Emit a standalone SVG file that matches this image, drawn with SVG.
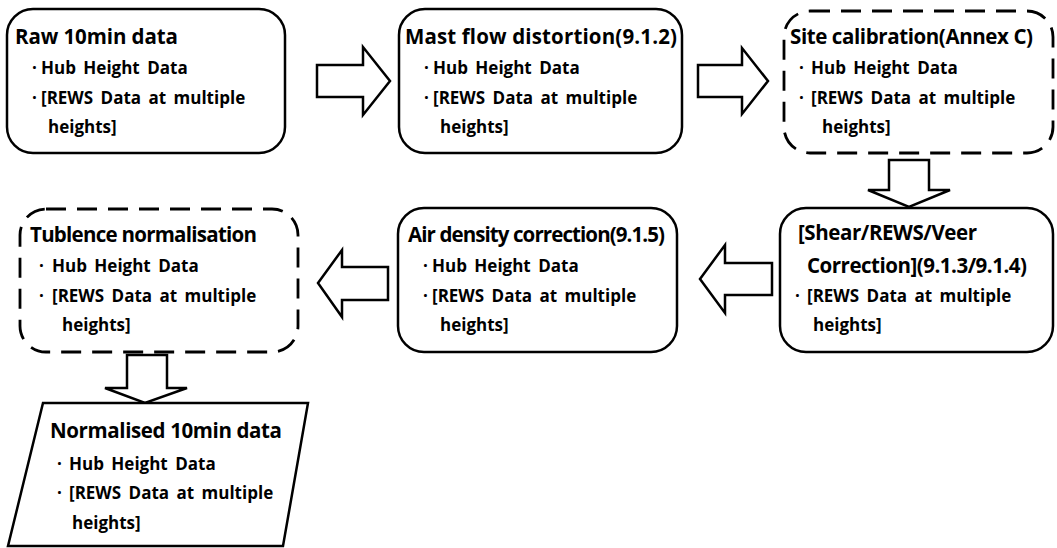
<svg xmlns="http://www.w3.org/2000/svg" width="1057" height="548" viewBox="0 0 1057 548">
<style>
  .box { fill: #fff; stroke: #000; stroke-width: 2.5; }
  .dash { fill: #fff; stroke: #000; stroke-width: 2.8; stroke-dasharray: 20 11; }
  .arr { fill: #fff; stroke: #000; stroke-width: 2.5; stroke-linejoin: miter; }
  text { font-family: "Open Sans", "Noto Sans CJK KR", sans-serif; font-weight: bold; fill: #000; }
  .t { font-size: 20.5px; }
  .b { font-size: 17px; word-spacing: 3px; }
</style>
<rect width="1057" height="548" fill="#fff"/>
<g id="connectors">
  <polygon class="arr" points="317,65 363,65 363,47 390,81 363,115 363,97 317,97"/>
  <polygon class="arr" points="698,65 742,65 742,48 768,81 742,114 742,97 698,97"/>
  <polygon class="arr" points="889,160 929,160 929,190 950,190 909,207 868,190 889,190"/>
  <polygon class="arr" points="772,263 725,263 725,245 700,279 725,313 725,295 772,295"/>
  <polygon class="arr" points="388,267 342,267 342,250 318,283 342,317 342,300 388,300"/>
  <polygon class="arr" points="127,355 167,355 167,388 187,388 145,403 105,388 127,388"/>
</g>
<g id="raw">
  <rect class="box" x="7" y="9" width="278" height="144" rx="26"/>
  <text class="t" x="15" y="44" textLength="163" lengthAdjust="spacing">Raw 10min data</text>
  <text class="b" x="32" y="74">·</text>
  <text class="b" x="41" y="74">Hub Height Data</text>
  <text class="b" x="32" y="104">·</text>
  <text class="b" x="41" y="104">[REWS Data at multiple</text>
  <text class="b" x="48" y="133">heights]</text>
</g>
<g id="mast">
  <rect class="box" x="399" y="9" width="283" height="144" rx="26"/>
  <text class="t" x="405" y="44" textLength="272" lengthAdjust="spacing">Mast flow distortion(9.1.2)</text>
  <text class="b" x="424" y="74">·</text>
  <text class="b" x="433" y="74">Hub Height Data</text>
  <text class="b" x="424" y="104">·</text>
  <text class="b" x="433" y="104">[REWS Data at multiple</text>
  <text class="b" x="440" y="133">heights]</text>
</g>
<g id="site">
  <rect class="dash" x="784" y="11" width="269" height="142" rx="26"/>
  <text class="t" x="790" y="44" textLength="243" lengthAdjust="spacing">Site calibration(Annex C)</text>
  <text class="b" x="799" y="74">·</text>
  <text class="b" x="811" y="74">Hub Height Data</text>
  <text class="b" x="799" y="104">·</text>
  <text class="b" x="811" y="104">[REWS Data at multiple</text>
  <text class="b" x="822" y="133">heights]</text>
</g>
<g id="shear">
  <rect class="box" x="780" y="208" width="273" height="144" rx="26"/>
  <text class="t" x="798" y="240" textLength="179" lengthAdjust="spacing">[Shear/REWS/Veer</text>
  <text class="t" x="807" y="273" textLength="220" lengthAdjust="spacing">Correction](9.1.3/9.1.4)</text>
  <text class="b" x="795" y="302">·</text>
  <text class="b" x="807" y="302">[REWS Data at multiple</text>
  <text class="b" x="813" y="331">heights]</text>
</g>
<g id="air">
  <rect class="box" x="398" y="208" width="279" height="144" rx="26"/>
  <text class="t" x="408" y="242" textLength="257" lengthAdjust="spacing">Air density correction(9.1.5)</text>
  <text class="b" x="423" y="272">·</text>
  <text class="b" x="432" y="272">Hub Height Data</text>
  <text class="b" x="423" y="302">·</text>
  <text class="b" x="432" y="302">[REWS Data at multiple</text>
  <text class="b" x="440" y="331">heights]</text>
</g>
<g id="turb">
  <rect class="dash" x="20" y="209" width="278" height="143" rx="26"/>
  <text class="t" x="30" y="242" textLength="227" lengthAdjust="spacing">Tublence normalisation</text>
  <text class="b" x="39" y="272">·</text>
  <text class="b" x="52" y="272">Hub Height Data</text>
  <text class="b" x="39" y="302">·</text>
  <text class="b" x="52" y="302">[REWS Data at multiple</text>
  <text class="b" x="62" y="331">heights]</text>
</g>
<g id="normalised">
  <polygon class="box" points="43,403 308,403 283,546 8,546"/>
  <text class="t" x="50" y="438" textLength="232" lengthAdjust="spacing">Normalised 10min data</text>
  <text class="b" x="57" y="470">·</text>
  <text class="b" x="69" y="470">Hub Height Data</text>
  <text class="b" x="57" y="499">·</text>
  <text class="b" x="69" y="499">[REWS Data at multiple</text>
  <text class="b" x="72" y="529">heights]</text>
</g>
</svg>
